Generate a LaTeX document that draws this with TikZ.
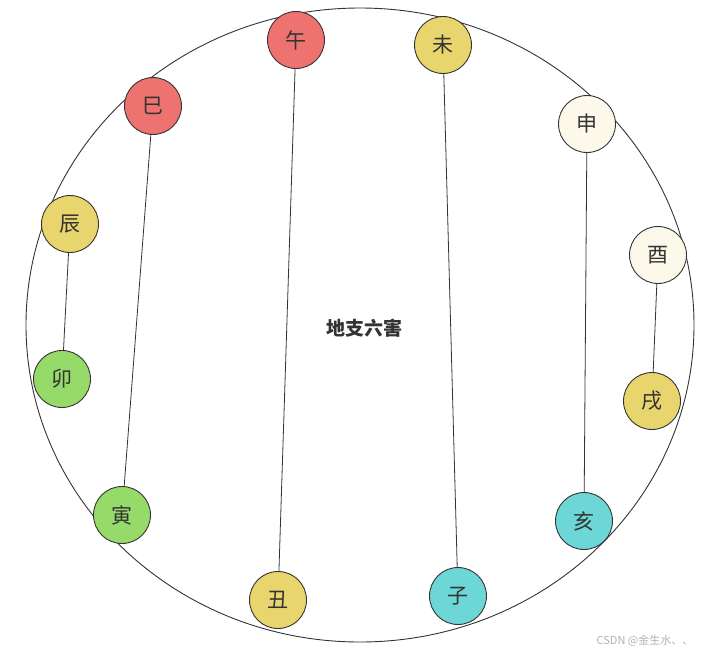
\documentclass[tikz,border=0pt]{standalone}
\usepackage{fontspec}
\usetikzlibrary{shapes.geometric}
\newfontfamily\cjk{Noto Sans CJK SC}
\definecolor{cred}{HTML}{EE7370}
\definecolor{cyel}{HTML}{E8D56E}
\definecolor{ccream}{HTML}{FCF9EB}
\definecolor{cgreen}{HTML}{96DB6A}
\definecolor{ccyan}{HTML}{6DD6D6}
\definecolor{cline}{HTML}{333333}
\tikzset{
  br/.style={circle, draw=cline, line width=0.9pt, minimum size=57pt, inner sep=0pt, font=\cjk\fontsize{21pt}{21pt}\selectfont, text=cline},
  link/.style={draw=cline, line width=0.8pt},
}
\begin{document}
\begin{tikzpicture}[x=1pt,y=-1pt]
\useasboundingbox (0,0) rectangle (707,654);
\node[ellipse, draw=cline, line width=0.9pt, minimum width=668pt, minimum height=634pt, inner sep=0pt] (ring) at (360,325) {};
\node[font=\cjk\bfseries\fontsize{19pt}{19pt}\selectfont, text=cline] (title) at (364,328) {地支六害};
\node[br, fill=cred] (wu) at (296,40) {午};
\node[br, fill=cyel] (wei) at (443,45) {未};
\node[br, fill=cred] (si) at (153,106) {巳};
\node[br, fill=ccream] (shen) at (587,124) {申};
\node[br, fill=cyel] (chen) at (70,224) {辰};
\node[br, fill=ccream] (you) at (658,255) {酉};
\node[br, fill=cgreen] (mao) at (62,379) {卯};
\node[br, fill=cyel] (xu) at (652,401) {戌};
\node[br, fill=cgreen] (yin) at (122,515) {寅};
\node[br, fill=ccyan] (hai) at (584,521) {亥};
\node[br, fill=cyel] (chou) at (278,600) {丑};
\node[br, fill=ccyan] (zi) at (458,596) {子};
\draw[link] (wu) -- (chou);
\draw[link] (wei) -- (zi);
\draw[link] (si) -- (yin);
\draw[link] (shen) -- (hai);
\draw[link] (chen) -- (mao);
\draw[link] (you) -- (xu);
\node[font=\cjk\fontsize{11pt}{11pt}\selectfont, text=black!30] (wm) at (645,641) {CSDN @金生水、、};
\end{tikzpicture}
\end{document}
